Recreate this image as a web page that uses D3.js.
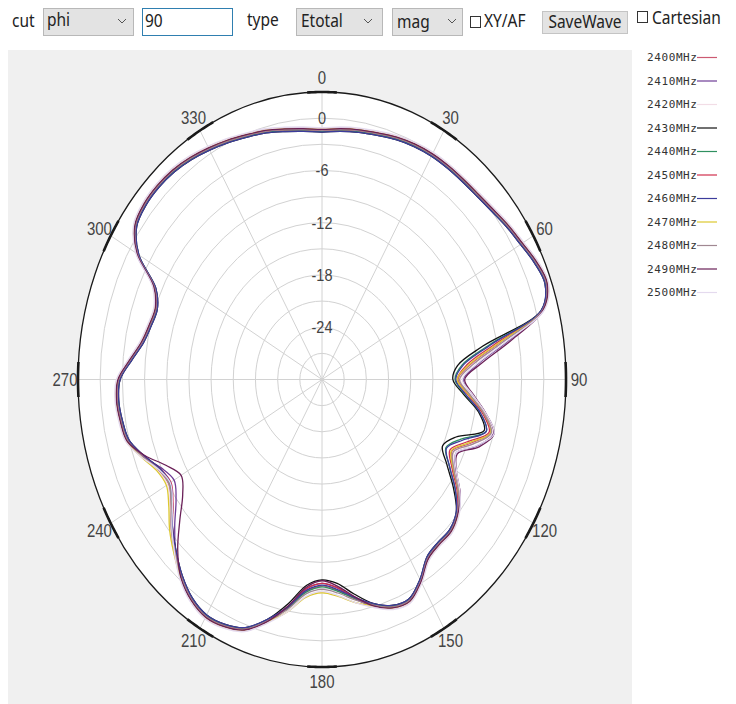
<!DOCTYPE html>
<html>
<head>
<meta charset="utf-8">
<script src="https://cdn.jsdelivr.net/npm/d3@7/dist/d3.min.js"></script>
<style>
  body { margin: 0; background: #ffffff; }
  svg { display: block; }
</style>
</head>
<body>
<svg id="chart" width="736" height="704"></svg>
<script>
// Angles (degrees, clockwise from top)
const angles = [0,5,10,15,20,25,30,35,40,45,50,55,60,65,70,75,80,85,90,95,100,105,110,115,
  120,125,130,135,140,145,150,155,160,165,170,175,180,185,190,195,200,205,210,215,220,225,230,235,
  240,245,250,255,260,265,270,275,280,285,290,295,300,305,310,315,320,325,330,335,340,345,350,355];

// Etotal gain (dB) per frequency, one value per angle
const g2400 = [-1.3,-1.1,-0.9,-0.7,-0.4,-0.2,-0.1,-0.1,-0.1,0.0,0.3,0.8,1.3,2.0,2.4,1.0,-5.5,-9.8,-11.6,-10.0,-7.8,-6.4,-8.6,-10.6,
  -9.5,-7.5,-6.0,-5.3,-5.3,-4.9,-3.2,-1.9,-2.1,-3.1,-4.4,-5.7,-6.3,-5.6,-3.3,-1.2,0.6,1.3,1.5,0.9,-0.3,-1.8,-3.3,-5.0,
  -6.0,-5.5,-4.1,-2.7,-2.3,-2.1,-2.4,-3.9,-5.2,-5.8,-6.0,-4.9,-1.1,0.9,1.4,1.5,1.4,1.1,0.7,0.3,-0.1,-0.4,-0.8,-1.1];
const g2410 = [-1.2,-1.0,-0.8,-0.6,-0.3,-0.1,0.0,0.0,0.0,0.1,0.4,0.9,1.4,2.1,2.5,1.1,-4.4,-8.7,-10.9,-9.5,-7.5,-6.0,-7.7,-10.0,
  -9.1,-7.2,-5.9,-5.2,-5.2,-4.8,-3.1,-1.8,-2.0,-3.0,-4.5,-6.0,-6.6,-5.9,-3.4,-1.1,0.7,1.4,1.6,1.0,-0.2,-2.0,-4.0,-5.9,
  -6.9,-6.0,-4.2,-2.6,-2.2,-2.0,-2.3,-3.8,-5.1,-5.7,-5.9,-4.8,-1.0,1.0,1.5,1.6,1.5,1.2,0.8,0.4,0.0,-0.3,-0.7,-1.0];
const g2420 = [-1.2,-1.0,-0.8,-0.6,-0.3,-0.1,0.0,0.0,0.0,0.1,0.4,0.9,1.4,2.1,2.5,1.1,-5.1,-9.4,-11.3,-9.8,-7.6,-6.2,-8.3,-10.3,
  -9.3,-7.3,-5.9,-5.2,-5.2,-4.8,-3.1,-1.8,-2.0,-3.0,-4.0,-5.1,-5.6,-5.0,-2.9,-1.1,0.7,1.4,1.6,1.0,-0.2,-1.7,-3.2,-4.9,
  -5.9,-5.4,-4.0,-2.6,-2.2,-2.0,-2.3,-3.8,-5.1,-5.7,-5.9,-4.8,-1.0,1.0,1.5,1.6,1.5,1.2,0.8,0.4,0.0,-0.3,-0.7,-1.0];
const g2430 = [-1.6,-1.4,-1.2,-1.0,-0.7,-0.5,-0.4,-0.4,-0.4,-0.3,0.0,0.5,1.0,1.7,2.1,0.7,-7.9,-11.6,-12.3,-10.8,-8.5,-7.3,-10.7,-12.0,
  -10.5,-8.3,-6.3,-5.6,-5.6,-5.2,-3.5,-2.2,-2.4,-3.4,-5.0,-6.5,-7.0,-6.3,-3.9,-1.5,0.3,1.0,1.2,0.6,-0.6,-2.1,-3.6,-5.3,
  -6.3,-5.8,-4.4,-3.0,-2.6,-2.4,-2.7,-4.2,-5.5,-6.1,-6.3,-5.2,-1.4,0.6,1.1,1.2,1.1,0.8,0.4,0.0,-0.4,-0.7,-1.1,-1.4];
const g2440 = [-1.5,-1.3,-1.1,-0.9,-0.6,-0.4,-0.3,-0.3,-0.3,-0.2,0.1,0.6,1.1,1.8,2.2,0.8,-7.0,-11.0,-12.0,-10.6,-8.3,-7.0,-10.0,-11.5,
  -10.1,-8.0,-6.2,-5.5,-5.5,-5.1,-3.4,-2.1,-2.3,-3.3,-4.5,-5.6,-6.2,-5.5,-3.4,-1.4,0.4,1.1,1.3,0.7,-0.5,-2.0,-3.5,-5.2,
  -6.2,-5.7,-4.3,-2.9,-2.5,-2.3,-2.6,-4.1,-5.4,-6.0,-6.2,-5.1,-1.3,0.7,1.2,1.3,1.2,0.9,0.5,0.1,-0.3,-0.6,-1.0,-1.3];
const g2450 = [-1.4,-1.2,-1.0,-0.8,-0.5,-0.3,-0.2,-0.2,-0.2,-0.1,0.2,0.7,1.2,1.9,2.3,0.9,-6.1,-10.3,-11.7,-10.2,-8.0,-6.6,-9.1,-10.9,
  -9.7,-7.7,-6.1,-5.4,-5.4,-5.0,-3.3,-2.0,-2.2,-3.2,-4.6,-6.0,-6.6,-5.9,-3.5,-1.3,0.5,1.2,1.4,0.8,-0.4,-2.0,-3.6,-5.4,
  -6.4,-5.8,-4.3,-2.8,-2.4,-2.2,-2.5,-4.0,-5.3,-5.9,-6.1,-5.0,-1.2,0.8,1.3,1.4,1.3,1.0,0.6,0.2,-0.2,-0.5,-0.9,-1.2];
const g2460 = [-1.6,-1.4,-1.2,-1.0,-0.7,-0.5,-0.4,-0.4,-0.4,-0.3,0.0,0.5,1.0,1.7,2.1,0.7,-6.7,-10.8,-11.9,-10.5,-8.3,-7.0,-9.7,-11.4,
  -10.1,-8.0,-6.3,-5.6,-5.6,-5.2,-3.5,-2.2,-2.4,-3.4,-4.6,-5.8,-6.4,-5.7,-3.5,-1.5,0.3,1.0,1.2,0.6,-0.6,-2.1,-3.6,-5.3,
  -6.3,-5.8,-4.4,-3.0,-2.6,-2.4,-2.7,-4.2,-5.5,-6.1,-6.3,-5.2,-1.4,0.6,1.1,1.2,1.1,0.8,0.4,0.0,-0.4,-0.7,-1.1,-1.4];
const g2470 = [-1.3,-1.1,-0.9,-0.7,-0.4,-0.2,-0.1,-0.1,-0.1,0.0,0.3,0.8,1.3,2.0,2.4,1.0,-5.7,-10.0,-11.7,-10.1,-7.8,-6.4,-8.8,-10.7,
  -9.5,-7.5,-6.0,-5.3,-5.3,-4.9,-3.2,-1.9,-2.1,-3.1,-4.0,-5.0,-5.5,-4.9,-2.9,-1.2,0.6,1.3,1.5,0.9,-0.3,-1.7,-3.1,-4.7,
  -5.7,-5.3,-4.0,-2.7,-2.3,-2.1,-2.4,-3.9,-5.2,-5.8,-6.0,-4.9,-1.1,0.9,1.4,1.5,1.4,1.1,0.7,0.3,-0.1,-0.4,-0.8,-1.1];
const g2480 = [-1.4,-1.2,-1.0,-0.8,-0.5,-0.3,-0.2,-0.2,-0.2,-0.1,0.2,0.7,1.2,1.9,2.3,0.9,-5.1,-9.4,-11.4,-9.9,-7.8,-6.3,-8.3,-10.4,
  -9.4,-7.5,-6.1,-5.4,-5.4,-5.0,-3.3,-2.0,-2.2,-3.2,-4.3,-5.4,-5.9,-5.3,-3.2,-1.3,0.5,1.2,1.4,0.8,-0.4,-1.9,-3.4,-5.1,
  -6.1,-5.6,-4.2,-2.8,-2.4,-2.2,-2.5,-4.0,-5.3,-5.9,-6.1,-5.0,-1.2,0.8,1.3,1.4,1.3,1.0,0.6,0.2,-0.2,-0.5,-0.9,-1.2];
const g2490 = [-1.3,-1.1,-0.9,-0.7,-0.4,-0.2,-0.1,-0.1,-0.1,0.0,0.3,0.8,1.3,2.0,2.4,1.0,-4.0,-8.3,-10.7,-9.4,-7.5,-5.9,-7.4,-9.8,
  -9.0,-7.2,-6.0,-5.3,-5.3,-4.9,-3.2,-1.9,-2.1,-3.1,-4.7,-6.2,-6.9,-6.1,-3.6,-1.2,0.6,1.3,1.5,0.9,-0.3,-2.4,-4.9,-7.0,
  -8.0,-6.7,-4.5,-2.7,-2.3,-2.1,-2.4,-3.9,-5.2,-5.8,-6.0,-4.9,-1.1,0.9,1.4,1.5,1.4,1.1,0.7,0.3,-0.1,-0.4,-0.8,-1.1];
const g2500 = [-1.1,-0.9,-0.7,-0.5,-0.2,0.0,0.1,0.1,0.1,0.2,0.5,1.0,1.5,2.2,2.6,1.2,-4.6,-8.9,-11.0,-9.5,-7.5,-5.9,-7.8,-10.0,
  -9.0,-7.2,-5.8,-5.1,-5.1,-4.7,-3.0,-1.7,-1.9,-2.9,-4.0,-5.1,-5.7,-5.0,-2.9,-1.0,0.8,1.5,1.7,1.1,-0.1,-1.8,-3.5,-5.3,
  -6.3,-5.6,-4.0,-2.5,-2.1,-1.9,-2.2,-3.7,-5.0,-5.6,-5.8,-4.7,-0.9,1.1,1.6,1.7,1.6,1.3,0.9,0.5,0.1,-0.2,-0.6,-0.9];

const freqLabels = ["2400MHz","2410MHz","2420MHz","2430MHz","2440MHz","2450MHz","2460MHz","2470MHz","2480MHz","2490MHz","2500MHz"];
const freqColors = ["#cc5a72","#6e3c96","#f2dde6","#111111","#2f9060","#d0304e","#3c3c9c","#dcc830","#a08892","#6a2058","#e4daee"];
const freqValues = [g2400,g2410,g2420,g2430,g2440,g2450,g2460,g2470,g2480,g2490,g2500];

const ringLevels = [-27,-24,-21,-18,-15,-12,-9,-6,-3,0];
const ringLabels = [0,-6,-12,-18,-24];
const spokeAngles = [0,30,60,90,120,150,180,210,240,270,300,330];

const series = freqLabels.map((name, i) => ({name, color: freqColors[i], values: freqValues[i]}));

const svg = d3.select("#chart");
const SY = 287.5 / 244;           // vertical stretch of the plot and its text
const cx = 322, cy = 379.5, RX = 244, RY = 287.5;

const rScale = d3.scaleLinear().domain([-30, 3]).range([0, 1]);
const rad = a => a * Math.PI / 180;
const px = (a, t) => cx + RX * t * Math.sin(rad(a));
const py = (a, t) => cy - RY * t * Math.cos(rad(a));

function txt(g, x, y, s, o = {}) {
  return g.append("text")
    .attr("transform", `translate(${x},${y}) scale(1,${o.sy || SY})`)
    .attr("text-anchor", o.anchor || "start")
    .attr("dy", "0.35em")
    .attr("font-family", o.font || "'Liberation Sans', Arial, sans-serif")
    .attr("font-size", o.size || 14)
    .attr("fill", o.fill || "#333")
    .text(s);
}

// background panel behind the plot
svg.append("rect").attr("x", 8).attr("y", 50).attr("width", 624).attr("height", 654).attr("fill", "#f0f0f0");

// toolbar
const tb = svg.append("g");
const uiFont = "'Noto Sans', 'Open Sans', sans-serif";
const ui = {font: uiFont, size: 15.5, fill: "#222"};
function chevron(x, y) {
  tb.append("path").attr("d", `M${x - 4},${y - 2}L${x},${y + 2}L${x + 4},${y - 2}`)
    .attr("fill", "none").attr("stroke", "#555").attr("stroke-width", 1);
}
txt(tb, 12, 21, "cut", ui);
tb.append("rect").attr("x", 43.5).attr("y", 8.5).attr("width", 90).attr("height", 27).attr("fill", "#e3e3e3").attr("stroke", "#b8b8b8");
txt(tb, 47, 20, "phi", ui);
chevron(122, 21);
tb.append("rect").attr("x", 142.5).attr("y", 8.5).attr("width", 90).attr("height", 27).attr("fill", "#ffffff").attr("stroke", "#2f7fb0");
txt(tb, 145, 21, "90", ui);
txt(tb, 247, 20, "type", ui);
tb.append("rect").attr("x", 296.5).attr("y", 8.5).attr("width", 86).attr("height", 27).attr("fill", "#e3e3e3").attr("stroke", "#b8b8b8");
txt(tb, 301, 21, "Etotal", ui);
chevron(368, 21);
tb.append("rect").attr("x", 392.5).attr("y", 8.5).attr("width", 70).attr("height", 27).attr("fill", "#e3e3e3").attr("stroke", "#b8b8b8");
txt(tb, 397, 22, "mag", ui);
chevron(452, 21);
tb.append("rect").attr("x", 470.5).attr("y", 16.5).attr("width", 10).attr("height", 11).attr("fill", "#fff").attr("stroke", "#333");
txt(tb, 484, 21, "XY/AF", ui);
tb.append("rect").attr("x", 542.5).attr("y", 11.5).attr("width", 85).attr("height", 22).attr("fill", "#e3e3e3").attr("stroke", "#c4c4c4");
txt(tb, 585, 22, "SaveWave", {...ui, anchor: "middle"});
tb.append("rect").attr("x", 637.5).attr("y", 11.5).attr("width", 10).attr("height", 11).attr("fill", "#fff").attr("stroke", "#333");
txt(tb, 652, 18, "Cartesian", ui);

// polar plot
const plot = svg.append("g");
plot.append("ellipse").attr("cx", cx).attr("cy", cy).attr("rx", RX).attr("ry", RY).attr("fill", "#ffffff");

plot.selectAll(".ring").data(ringLevels).join("ellipse")
  .attr("cx", cx).attr("cy", cy)
  .attr("rx", d => RX * rScale(d)).attr("ry", d => RY * rScale(d))
  .attr("fill", "none").attr("stroke", "#d2d2d2").attr("stroke-width", 1);

plot.selectAll(".spoke").data(spokeAngles).join("line")
  .attr("x1", cx).attr("y1", cy)
  .attr("x2", d => px(d, 1)).attr("y2", d => py(d, 1))
  .attr("stroke", "#d2d2d2").attr("stroke-width", 1);

plot.append("ellipse").attr("cx", cx).attr("cy", cy).attr("rx", RX).attr("ry", RY)
  .attr("fill", "none").attr("stroke", "#1a1a1a").attr("stroke-width", 1.3);

// heavier tick arcs on the rim at each labelled angle
const tickArc = a => d3.range(a - 3.5, a + 3.51, 0.5).map(t => [px(t, 1), py(t, 1)]);
plot.selectAll(".rimtick").data(spokeAngles).join("path")
  .attr("d", d => d3.line()(tickArc(d)))
  .attr("fill", "none").attr("stroke", "#1a1a1a").attr("stroke-width", 2.6);

ringLabels.forEach(v => txt(plot, cx, py(0, rScale(v)), String(v), {anchor: "middle", size: 14.5, fill: "#444"}));
spokeAngles.forEach(a => {
  const x = cx + (RX + 13) * Math.sin(rad(a));
  const y = cy - (RY + 14.5) * Math.cos(rad(a));
  txt(plot, x, y, String(a), {anchor: "middle", size: 15, fill: "#444"});
});

// pattern curves, one per frequency
const line = d3.line()
  .x((d, i) => px(angles[i], rScale(d)))
  .y((d, i) => py(angles[i], rScale(d)))
  .curve(d3.curveCatmullRomClosed.alpha(0.5));

plot.selectAll(".pattern").data(series).join("path")
  .attr("d", d => line(d.values))
  .attr("fill", "none")
  .attr("stroke", d => d.color)
  .attr("stroke-width", 1.3);

// legend
svg.append("rect").attr("x", 632).attr("y", 40).attr("width", 104).attr("height", 664).attr("fill", "#ffffff");
const lg = svg.append("g");
series.forEach((s, i) => {
  const y = 57.5 + i * 23.5;
  lg.append("text").attr("x", 647).attr("y", y).attr("dy", "0.35em")
    .attr("font-family", "'DejaVu Sans Mono', monospace").attr("font-size", 11).attr("letter-spacing", 0.6)
    .attr("fill", "#333").text(s.name);
  lg.append("line").attr("x1", 697).attr("x2", 717).attr("y1", y).attr("y2", y)
    .attr("stroke", s.color).attr("stroke-width", 1.2);
});
</script>
</body>
</html>
